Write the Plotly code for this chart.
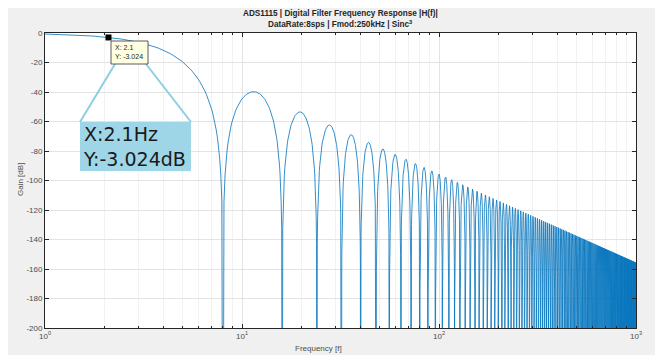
import numpy as np
import plotly.graph_objects as go

# Filter definition
DATA_RATE_SPS = 8.0      # DataRate: 8 sps
SINC_ORDER = 3           # Sinc^3
FREQ_START = 1.0
FREQ_STOP = 1000.0
FREQ_STEP = 0.1

# Data-tip marker
MARKER_X = 2.1
MARKER_Y = -3.024

Y_TICKS = [0, -20, -40, -60, -80, -100, -120, -140, -160, -180, -200]
X_TICKS = [1, 10, 100, 1000]
X_TICK_TEXT = ["10<sup>0</sup>", "10<sup>1</sup>", "10<sup>2</sup>", "10<sup>3</sup>"]

freq = np.arange(FREQ_START, FREQ_STOP + FREQ_STEP / 2, FREQ_STEP)
arg = np.pi * freq / DATA_RATE_SPS
mag = np.abs(np.sin(arg) / arg) ** SINC_ORDER
gain = 20 * np.log10(np.maximum(mag, 1e-30))
gain = np.maximum(gain, -400)

# page offset from default body margin
OFF = 8
W, H = 663 - OFF, 355 - OFF
L, T = 45 - OFF, 33 - OFF
PW, PH = 591, 295
R, B = W - L - PW, H - T - PH


def px(x):
    return (x - OFF - L) / PW


def py(y):
    return 1 - (y - OFF - T) / PH


fig = go.Figure()
fig.add_trace(go.Scatter(x=freq, y=gain, mode="lines",
                         line=dict(color="#0072BD", width=0.8),
                         hoverinfo="skip", showlegend=False))
fig.add_trace(go.Scatter(x=[MARKER_X], y=[MARKER_Y], mode="markers",
                         marker=dict(symbol="square", size=6, color="black"),
                         hoverinfo="skip", showlegend=False, cliponaxis=False))

minor_vals = [m * 10 ** d for d in range(0, 3) for m in range(2, 10)]

fig.update_xaxes(type="log", range=[0, 3], tickvals=X_TICKS, ticktext=X_TICK_TEXT,
                 automargin=False,
                 ticks="inside", ticklen=4, tickcolor="#262626", mirror="allticks",
                 showline=True, linecolor="#262626", linewidth=1,
                 showgrid=True, gridcolor="#e3e3e3", zeroline=False,
                 minor=dict(tickmode="array", tickvals=minor_vals, ticks="inside",
                            ticklen=2, tickcolor="#262626", showgrid=True,
                            gridcolor="#f2f2f2"),
                 tickfont=dict(family="Liberation Sans", size=8, color="#4d4d4d"))
fig.update_yaxes(range=[-200, 0], tickvals=Y_TICKS, ticktext=[str(v) for v in Y_TICKS],
                 automargin=False,
                 ticks="inside", ticklen=4, tickcolor="#262626", mirror="allticks",
                 showline=True, linecolor="#262626", linewidth=1,
                 showgrid=True, gridcolor="#e3e3e3", zeroline=False,
                 tickfont=dict(family="Liberation Sans", size=8, color="#4d4d4d"))

annotations = [
    dict(text="<b>ADS1115 | Digital Filter Frequency Response |H(f)|</b>",
         x=px(340), y=py(14), xref="paper", yref="paper", showarrow=False,
         xanchor="center", yanchor="middle",
         font=dict(family="Liberation Sans", size=8.2, color="#262626")),
    dict(text="<b>DataRate:8sps | Fmod:250kHz | Sinc<sup>3</sup></b>",
         x=px(340), y=py(24.5), xref="paper", yref="paper", showarrow=False,
         xanchor="center", yanchor="middle",
         font=dict(family="Liberation Sans", size=8.2, color="#262626")),
    dict(text="Frequency [f]", x=px(318), y=py(348), xref="paper", yref="paper",
         xanchor="center", yanchor="middle",
         showarrow=False, font=dict(family="Liberation Sans", size=8, color="#4d4d4d")),
    dict(text="Gain [dB]", x=px(20), y=py(180), xref="paper", yref="paper", textangle=-90,
         xanchor="center", yanchor="middle",
         showarrow=False, font=dict(family="Liberation Sans", size=8, color="#4d4d4d")),
    dict(text="X: 2.1<br>Y: -3.024", x=px(113), y=py(42), xref="paper", yref="paper",
         xanchor="left", yanchor="top", align="left", showarrow=False,
         font=dict(family="Liberation Sans", size=7, color="#262626")),
    dict(text="X:2.1Hz<br>Y:-3.024dB", x=px(81), y=py(146), xref="paper", yref="paper",
         xanchor="left", yanchor="middle", align="left", showarrow=False,
         font=dict(family="DejaVu Sans", size=19, color="#1a1a1a")),
]

shapes = [
    dict(type="line", xref="paper", yref="paper", x0=px(115), y0=py(64), x1=px(80), y1=py(122),
         line=dict(color="#8ccfe3", width=2)),
    dict(type="line", xref="paper", yref="paper", x0=px(146), y0=py(64), x1=px(191), y1=py(122),
         line=dict(color="#8ccfe3", width=2)),
    dict(type="rect", xref="paper", yref="paper", x0=px(80), y0=py(122), x1=px(191), y1=py(171),
         fillcolor="#9fd6e7", line=dict(width=0)),
    dict(type="rect", xref="paper", yref="paper", x0=px(111), y0=py(41), x1=px(148), y1=py(64),
         fillcolor="#ffffe1", line=dict(color="#333333", width=0.8)),
]

fig.update_layout(width=W, height=H, margin=dict(l=L, r=R, t=T, b=B),
                  paper_bgcolor="#f0f0f0", plot_bgcolor="white",
                  annotations=annotations, shapes=shapes, showlegend=False)

fig.write_html("out.html")
